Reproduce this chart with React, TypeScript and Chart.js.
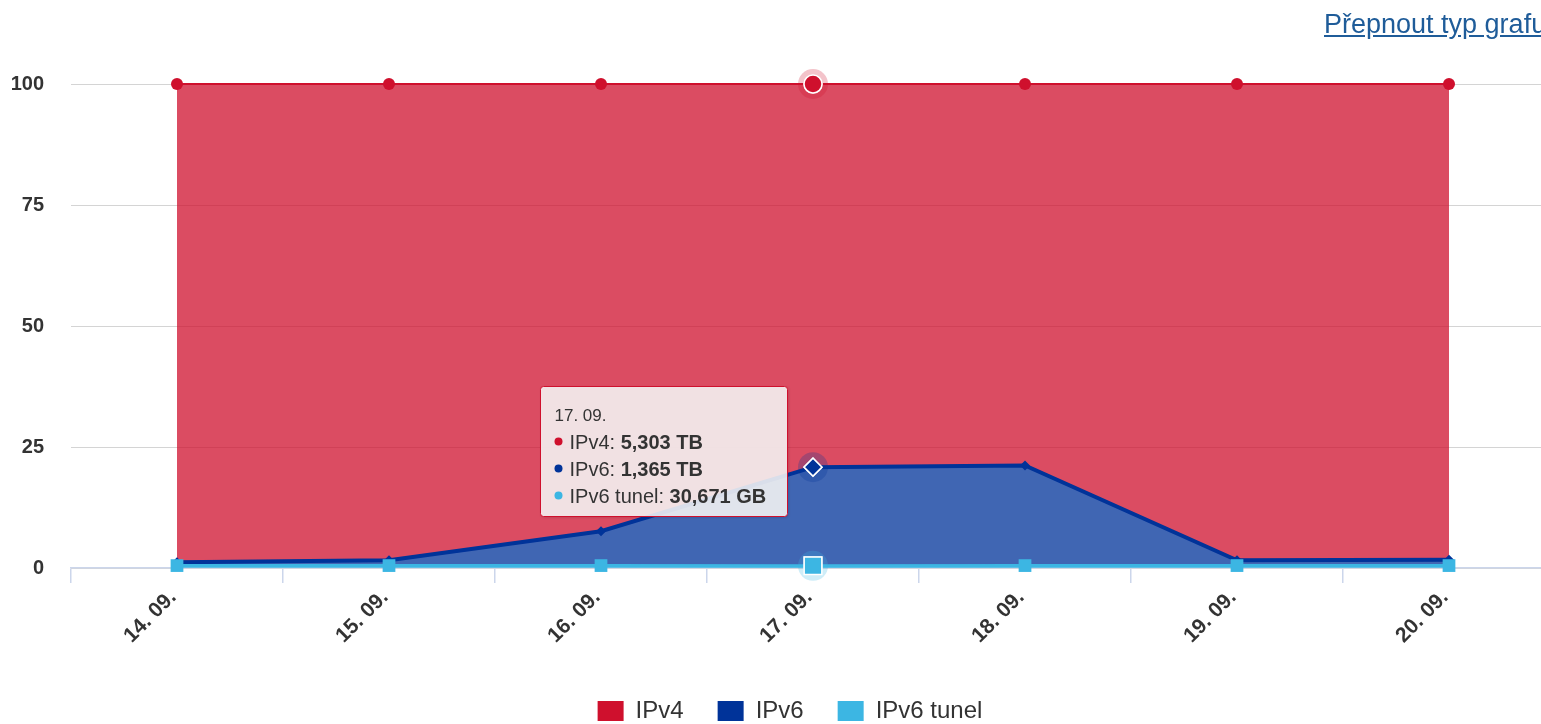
import React, { useEffect, useRef } from "react";
import { Chart, registerables } from "chart.js";

Chart.register(...registerables);

// ---- data (percent shares) ----
const categories = ["14. 09.", "15. 09.", "16. 09.", "17. 09.", "18. 09.", "19. 09.", "20. 09."];
const ipv4Share = [98.8, 98.4, 92.4, 79.16, 78.8, 98.4, 98.3];
const ipv6Share = [0.7, 1.1, 7.1, 20.38, 20.7, 1.1, 1.2];
const tunnelShare = [0.5, 0.5, 0.5, 0.46, 0.5, 0.5, 0.5];
const yTickValues = [0, 25, 50, 75, 100];
const seriesNames = ["IPv4", "IPv6", "IPv6 tunel"];
const seriesColors = ["#cf102d", "#003399", "#3cb6e3"];
const seriesFills = ["rgba(207,16,45,0.75)", "rgba(0,51,153,0.75)", "rgba(60,182,227,0.75)"];
const hoverIndex = 3;
const tooltipValues = ["5,303 TB", "1,365 TB", "30,671 GB"];
const linkText = "Přepnout typ grafu";

const FONT = '"Liberation Sans", Arial, Helvetica, sans-serif';

const haloPlugin = {
  id: "haloPlugin",
  afterDatasetsDraw(chart: any) {
    const ctx = chart.ctx;
    const haloColors = ["rgba(207,16,45,0.25)", "rgba(0,51,153,0.25)", "rgba(60,182,227,0.25)"];
    // datasets: 0 tunnel, 1 ipv6, 2 ipv4
    const map = [2, 1, 0];
    for (let d = 0; d < chart.data.datasets.length; d++) {
      const meta = chart.getDatasetMeta(d);
      const el = meta.data[hoverIndex];
      if (!el) continue;
      ctx.save();
      ctx.beginPath();
      ctx.arc(el.x, el.y, 15, 0, Math.PI * 2);
      ctx.fillStyle = haloColors[map[d]];
      ctx.fill();
      ctx.restore();
      el.draw(ctx, chart.chartArea);
    }
  },
};

const tooltipPlugin = {
  id: "fakeTooltip",
  afterDraw(chart: any) {
    const ctx = chart.ctx;
    const px = chart.scales.x.getPixelForValue(hoverIndex);
    const anchorY = chart.getDatasetMeta(1).data[hoverIndex].y;
    const normal = `20px ${FONT}`;
    const bold = `bold 20px ${FONT}`;
    ctx.save();
    let maxW = 0;
    const parts = seriesNames.map((n, i) => {
      ctx.font = normal;
      const lw = ctx.measureText(n + ": ").width;
      ctx.font = bold;
      const vw = ctx.measureText(tooltipValues[i]).width;
      maxW = Math.max(maxW, lw + vw);
      return lw;
    });
    const width = Math.round(29 + maxW + 21);
    const height = 130;
    const left = Math.round(px - 26 - width) + 0.5;
    const top = Math.round(anchorY - 81) + 0.5;

    ctx.shadowColor = "rgba(0,0,0,0.18)";
    ctx.shadowOffsetX = 1;
    ctx.shadowOffsetY = 1;
    ctx.shadowBlur = 3;
    ctx.beginPath();
    (ctx as any).roundRect(left, top, width, height, 3);
    ctx.fillStyle = "rgba(249,249,249,0.87)";
    ctx.fill();
    ctx.shadowColor = "transparent";
    ctx.lineWidth = 1;
    ctx.strokeStyle = seriesColors[0];
    ctx.stroke();

    ctx.fillStyle = "#333333";
    ctx.textBaseline = "alphabetic";
    ctx.textAlign = "left";
    ctx.font = `17px ${FONT}`;
    ctx.fillText(categories[hoverIndex], left + 14, top + 34);

    const baselines = [62, 89, 116];
    seriesNames.forEach((n, i) => {
      const by = top + baselines[i];
      ctx.beginPath();
      ctx.arc(left + 18, by - 7, 4, 0, Math.PI * 2);
      ctx.fillStyle = seriesColors[i];
      ctx.fill();
      ctx.fillStyle = "#333333";
      ctx.font = normal;
      ctx.fillText(n + ": ", left + 29, by);
      ctx.font = bold;
      ctx.fillText(tooltipValues[i], left + 29 + parts[i], by);
    });
    ctx.restore();
  },
};

function pointArr<T>(normalV: T, hoverV: T): T[] {
  return categories.map((_, i) => (i === hoverIndex ? hoverV : normalV));
}

export default function App() {
  const canvasRef = useRef<HTMLCanvasElement | null>(null);

  useEffect(() => {
    const canvas = canvasRef.current;
    if (!canvas) return;
    const chart = new Chart(canvas, {
      type: "line",
      data: {
        labels: categories,
        datasets: [
          {
            label: seriesNames[2],
            data: tunnelShare,
            borderColor: seriesColors[2],
            backgroundColor: seriesFills[2],
            fill: "origin",
            borderWidth: 3,
            clip: false,
            pointStyle: "rect",
            pointRadius: pointArr(9, 12.5),
            pointBackgroundColor: seriesColors[2],
            pointBorderColor: pointArr(seriesColors[2], "#ffffff"),
            pointBorderWidth: pointArr(0, 1.5),
          },
          {
            label: seriesNames[1],
            data: ipv6Share,
            borderColor: seriesColors[1],
            backgroundColor: seriesFills[1],
            fill: "-1",
            borderWidth: 4,
            clip: false,
            pointStyle: "rectRot",
            pointRadius: pointArr(5, 9),
            pointBackgroundColor: seriesColors[1],
            pointBorderColor: pointArr(seriesColors[1], "#ffffff"),
            pointBorderWidth: pointArr(0, 1.5),
          },
          {
            label: seriesNames[0],
            data: ipv4Share,
            borderColor: seriesColors[0],
            backgroundColor: seriesFills[0],
            fill: "-1",
            borderWidth: 2,
            clip: false,
            pointStyle: "circle",
            pointRadius: pointArr(6, 9),
            pointBackgroundColor: seriesColors[0],
            pointBorderColor: pointArr(seriesColors[0], "#ffffff"),
            pointBorderWidth: pointArr(0, 1.5),
          },
        ],
      },
      options: {
        animation: false,
        responsive: false,
        devicePixelRatio: 1,
        events: [],
        elements: { line: { tension: 0 } },
        layout: { padding: { top: 84, right: 0, left: 0, bottom: 0 } },
        scales: {
          x: {
            type: "category",
            offset: true,
            grid: {
              display: true,
              drawOnChartArea: false,
              drawTicks: true,
              tickLength: 15,
              color: "#ccd6eb",
              lineWidth: 1.5,
              offset: true,
            },
            border: { display: true, color: "#ccd6eb", width: 1.5 },
            ticks: {
              autoSkip: false,
              maxRotation: 45,
              minRotation: 45,
              padding: 2,
              labelOffset: -4,
              color: "#333333",
              font: { family: FONT, size: 21, weight: "bold" },
            },
            afterFit(scale: any) {
              scale.height = 97;
            },
          },
          y: {
            stacked: true,
            min: 0,
            max: 100,
            afterBuildTicks(scale: any) {
              scale.ticks = yTickValues.map((v) => ({ value: v }));
            },
            grid: { color: "#d4d4d4", lineWidth: 1, drawTicks: false },
            border: { display: false },
            ticks: {
              padding: 27,
              color: "#333333",
              font: { family: FONT, size: 20, weight: "bold" },
            },
            afterFit(scale: any) {
              scale.width = 71;
            },
          },
          spacer: {
            type: "linear",
            position: "right",
            display: true,
            grid: { display: false, drawTicks: false },
            border: { display: false },
            ticks: { display: false },
            afterFit(scale: any) {
              scale.width = 25;
            },
          },
        },
        plugins: {
          tooltip: { enabled: false },
          legend: {
            position: "bottom",
            labels: {
              boxWidth: 26,
              boxHeight: 20,
              padding: 34,
              color: "#333333",
              font: { family: FONT, size: 24 },
              generateLabels: () =>
                seriesNames.map((n, i) => ({
                  text: n,
                  fillStyle: seriesColors[i],
                  strokeStyle: seriesColors[i],
                  lineWidth: 0,
                  hidden: false,
                  fontColor: "#333333",
                  datasetIndex: 2 - i,
                })),
            },
          },
        },
      } as any,
      plugins: [haloPlugin, tooltipPlugin],
    });
    return () => chart.destroy();
  }, []);

  return (
    <div
      style={{
        position: "fixed",
        left: 0,
        top: 0,
        width: "100vw",
        height: "100vh",
        overflow: "hidden",
        background: "#ffffff",
      }}
    >
      <div style={{ position: "relative", width: 1580, height: 733 }}>
        <canvas ref={canvasRef} width={1580} height={733} style={{ width: 1580, height: 733, display: "block" }} />
        <a
          href="#"
          onClick={(e) => e.preventDefault()}
          style={{
            position: "absolute",
            left: 1324,
            top: 11,
            fontFamily: FONT,
            fontSize: 27,
            lineHeight: "27px",
            color: "#1f5c99",
            textDecoration: "underline",
            whiteSpace: "nowrap",
          }}
        >
          {linkText}
        </a>
      </div>
    </div>
  );
}
